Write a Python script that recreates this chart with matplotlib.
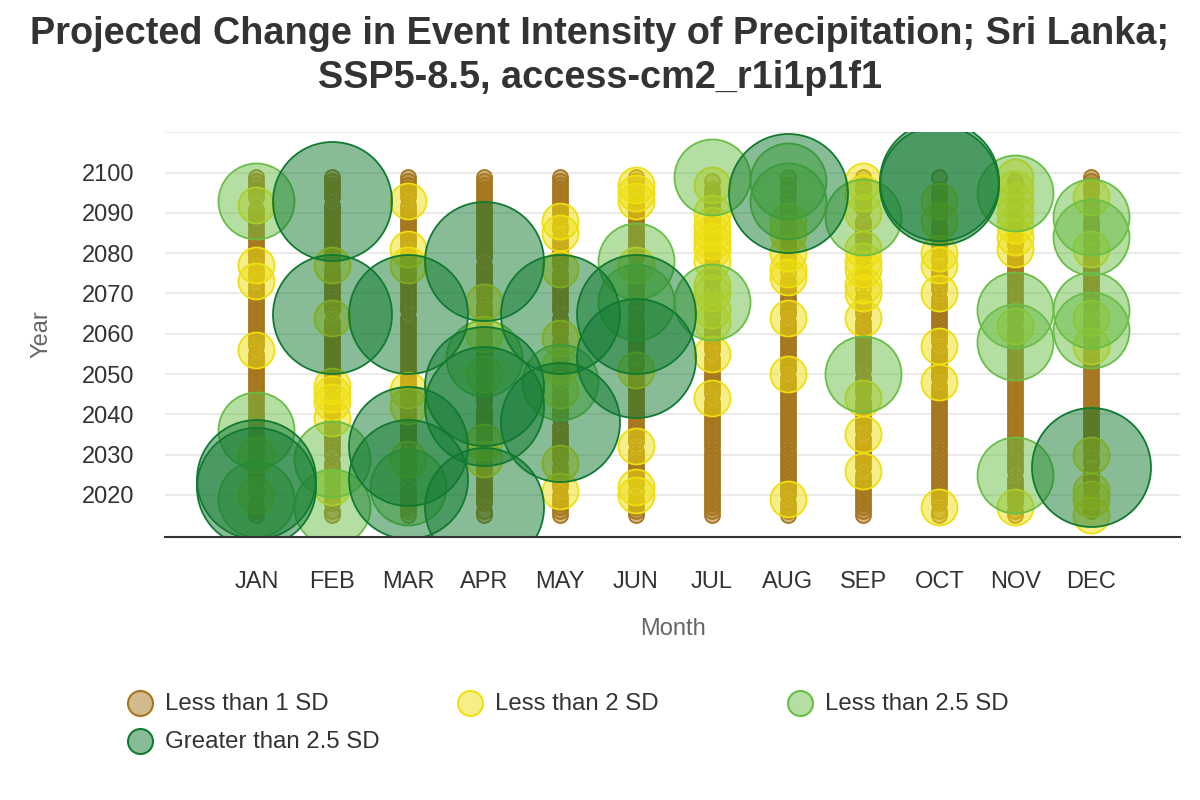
import matplotlib
matplotlib.use("Agg")
import matplotlib.pyplot as plt
from matplotlib.colors import to_rgba
from matplotlib.lines import Line2D

plt.rcParams['font.family'] = ['Liberation Sans', 'DejaVu Sans']

months = ["JAN", "FEB", "MAR", "APR", "MAY", "JUN", "JUL", "AUG", "SEP", "OCT", "NOV", "DEC"]
years = list(range(2015, 2100))

# Years per month falling in each category (all remaining years are "Less than 1 SD")
less2 = {
    "JAN": [2092, 2077, 2073, 2056, 2030, 2020],
    "FEB": [2077, 2064, 2047, 2045, 2043, 2039, 2022],
    "MAR": [2093, 2081, 2077, 2046, 2042, 2029],
    "APR": [2068, 2060, 2050, 2033, 2029],
    "MAY": [2088, 2085, 2076, 2059, 2052, 2046, 2028, 2021],
    "JUN": [2097, 2095, 2093, 2077, 2051, 2032, 2022, 2020],
    "JUL": [2097, 2090, 2087, 2085, 2083, 2081, 2078, 2072, 2070, 2066, 2063, 2055, 2044],
    "AUG": [2088, 2085, 2080, 2076, 2074, 2064, 2050, 2019],
    "SEP": [2098, 2095, 2090, 2081, 2078, 2076, 2072, 2070, 2064, 2044, 2035, 2026],
    "OCT": [2093, 2088, 2080, 2077, 2070, 2057, 2048, 2017],
    "NOV": [2099, 2096, 2093, 2090, 2087, 2084, 2081, 2062, 2017],
    "DEC": [2094, 2081, 2064, 2057, 2030, 2021, 2019, 2015],
}
less25 = {
    "JAN": [2093, 2036, 2019],
    "FEB": [2029, 2017],
    "MAR": [2022],
    "APR": [2054],
    "MAY": [2048],
    "JUN": [2078, 2068],
    "JUL": [2099, 2068],
    "AUG": [2098, 2093],
    "SEP": [2089, 2050],
    "OCT": [],
    "NOV": [2095, 2066, 2058, 2025],
    "DEC": [2089, 2084, 2066, 2061],
}
greater25 = {
    "JAN": [2024, 2022],
    "FEB": [2093, 2065],
    "MAR": [2065, 2032, 2024],
    "APR": [2078, 2047, 2042, 2017],
    "MAY": [2065, 2038],
    "JUN": [2065, 2054],
    "JUL": [],
    "AUG": [2095],
    "SEP": [],
    "OCT": [2098, 2097],
    "NOV": [],
    "DEC": [2027],
}

series_names = ["Less than 1 SD", "Less than 2 SD", "Less than 2.5 SD", "Greater than 2.5 SD"]
colors = ["#A6761D", "#EEE010", "#6ABE46", "#117A31"]
diam_px = [15, 36, 76, 119]

def px2s(d):
    return (d * 0.72) ** 2

W, H = 1200, 800
fig = plt.figure(figsize=(12, 8), dpi=100)
L, R, T, B = 165, 1180, 132, 536.7
ax = fig.add_axes([L / W, 1 - B / H, (R - L) / W, (B - T) / H])

cats = {}
for name in series_names:
    cats[name] = ([], [])
for i, m in enumerate(months):
    special = set(less2[m]) | set(less25[m]) | set(greater25[m])
    for y in years:
        if y not in special:
            cats[series_names[0]][0].append(i)
            cats[series_names[0]][1].append(y)
    for y in less2[m]:
        cats[series_names[1]][0].append(i)
        cats[series_names[1]][1].append(y)
    for y in less25[m]:
        cats[series_names[2]][0].append(i)
        cats[series_names[2]][1].append(y)
    for y in greater25[m]:
        cats[series_names[3]][0].append(i)
        cats[series_names[3]][1].append(y)

for k, name in enumerate(series_names):
    xs, ys = cats[name]
    ax.scatter(xs, ys, s=px2s(diam_px[k]), facecolors=to_rgba(colors[k], 0.5),
               edgecolors=colors[k], linewidths=1.3, zorder=3 + k)

ax.set_xlim(-1.206, 12.173)
ax.set_ylim(2009.6, 2110.1)
ax.set_xticks(range(12))
ax.set_xticklabels(months)
ax.set_yticks(list(range(2020, 2101, 10)))
for yv in range(2020, 2111, 10):
    ax.axhline(yv, color="#e6e6e6", lw=1.2, zorder=1)
for sp in ["top", "right", "left"]:
    ax.spines[sp].set_visible(False)
ax.spines["bottom"].set_color("#333333")
ax.spines["bottom"].set_linewidth(1.5)
ax.spines["bottom"].set_zorder(10)
ax.tick_params(axis="both", length=0, labelsize=17, labelcolor="#333333")
ax.tick_params(axis="y", pad=22)
ax.tick_params(axis="x", pad=25)
ax.set_xlabel("Month", fontsize=17, color="#666666", labelpad=18)
ax.set_ylabel("Year", fontsize=17, color="#666666", labelpad=21)

fig.text(0.5, 1 - 43.5 / H, "Projected Change in Event Intensity of Precipitation; Sri Lanka;",
         ha="center", va="baseline", fontsize=27.3, fontweight="bold", color="#333333")
fig.text(0.5, 1 - 88.5 / H, "SSP5-8.5, access-cm2_r1i1p1f1",
         ha="center", va="baseline", fontsize=27.3, fontweight="bold", color="#333333")

# legend
leg_pos = [(140, 703), (470, 703), (800, 703), (140, 741)]
for k, name in enumerate(series_names):
    x0, y0 = leg_pos[k]
    fig.add_artist(Line2D([x0 / W], [1 - y0 / H], marker="o", markersize=18,
                          markerfacecolor=to_rgba(colors[k], 0.5), markeredgecolor=colors[k],
                          markeredgewidth=1.5, linestyle="none", transform=fig.transFigure))
    fig.text((x0 + 25) / W, 1 - (y0 + 1) / H, name, ha="left", va="center", fontsize=17.3, color="#333333")

fig.savefig("out.png", dpi=100)
